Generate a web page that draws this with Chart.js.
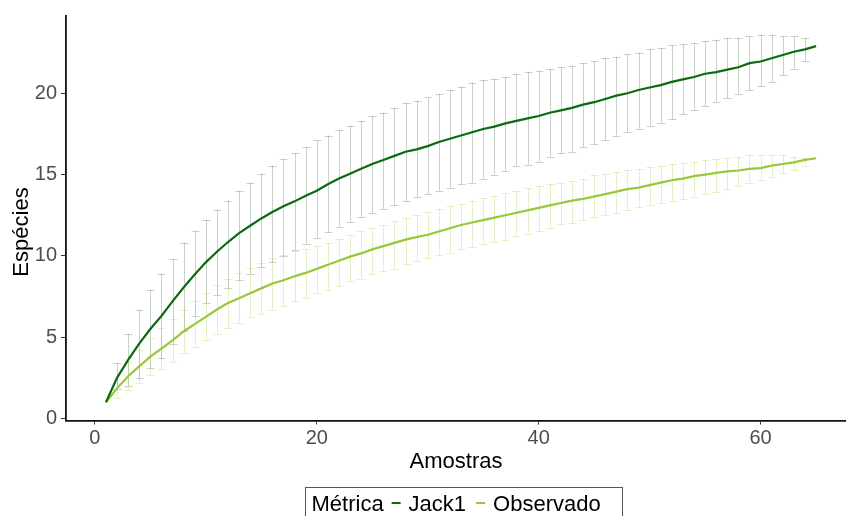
<!DOCTYPE html>
<html>
<head>
<meta charset="utf-8">
<script src="https://cdn.jsdelivr.net/npm/chart.js@4.4.1/dist/chart.umd.min.js"></script>
<style>
  html, body { margin: 0; padding: 0; background: #ffffff; }
  canvas { display: block; }
</style>
</head>
<body>
<canvas id="chart" width="846" height="516"></canvas>
<script>
// Number of samples (x axis)
const samples = [1,2,3,4,5,6,7,8,9,10,11,12,13,14,15,16,17,18,19,20,
  21,22,23,24,25,26,27,28,29,30,31,32,33,34,35,36,37,38,39,40,
  41,42,43,44,45,46,47,48,49,50,51,52,53,54,55,56,57,58,59,60,
  61,62,63,64,65];

// Jack1 estimator: mean and error-bar limits
const jackMean = [1.0,2.5,3.6,4.6,5.5,6.3,7.2,8.05,8.85,9.6,
  10.25,10.85,11.4,11.85,12.3,12.7,13.05,13.35,13.7,14.0,
  14.4,14.75,15.05,15.35,15.65,15.9,16.15,16.4,16.55,16.75,
  17.0,17.2,17.4,17.6,17.8,17.95,18.15,18.3,18.45,18.6,
  18.8,18.95,19.1,19.3,19.45,19.65,19.85,20.0,20.2,20.35,
  20.5,20.7,20.85,21.0,21.2,21.3,21.45,21.6,21.85,21.95,
  22.15,22.35,22.55,22.7,22.9];
const jackLower = [1.0,1.8,2.0,2.5,3.1,3.7,4.6,5.4,6.3,7.1,
  7.6,8.05,8.5,8.9,9.3,9.6,10.0,10.35,10.75,11.1,
  11.45,11.8,12.1,12.4,12.65,12.9,13.1,13.35,13.6,13.8,
  14.0,14.2,14.4,14.5,14.75,15.0,15.2,15.5,15.6,15.8,
  16.1,16.3,16.4,16.7,16.85,17.1,17.4,17.6,17.8,18.0,
  18.2,18.4,18.7,19.0,19.2,19.45,19.7,19.96,20.2,20.45,
  20.7,21.1,21.5,21.96,22.9];
const jackUpper = [1.0,3.4,5.2,6.7,7.9,8.9,9.8,10.8,11.5,12.2,
  12.85,13.4,14.0,14.5,15.05,15.55,15.95,16.3,16.7,17.1,
  17.4,17.75,18.0,18.3,18.6,18.8,19.1,19.4,19.55,19.75,
  19.96,20.2,20.4,20.65,20.8,20.9,21.0,21.2,21.3,21.38,
  21.5,21.6,21.7,21.85,21.96,22.15,22.25,22.4,22.5,22.7,
  22.8,22.95,23.0,23.1,23.2,23.3,23.4,23.4,23.5,23.6,
  23.6,23.5,23.5,23.4,22.9];

// Observed richness: mean and error-bar limits
const obsMean = [1.0,1.85,2.6,3.2,3.8,4.3,4.8,5.35,5.8,6.25,
  6.7,7.1,7.4,7.7,8.0,8.3,8.5,8.75,8.95,9.2,
  9.45,9.7,9.95,10.15,10.4,10.6,10.8,11.0,11.15,11.3,
  11.5,11.7,11.9,12.05,12.2,12.35,12.5,12.65,12.8,12.95,
  13.1,13.25,13.4,13.5,13.65,13.8,13.95,14.1,14.2,14.35,
  14.5,14.65,14.75,14.9,15.0,15.1,15.2,15.25,15.35,15.4,
  15.55,15.65,15.75,15.9,16.0];
const obsLower = [1.0,1.25,1.75,2.2,2.65,3.05,3.5,4.0,4.4,4.8,
  5.2,5.55,5.9,6.25,6.45,6.7,6.9,7.2,7.4,7.7,
  7.9,8.15,8.45,8.6,8.9,9.05,9.2,9.5,9.7,9.85,
  10.05,10.2,10.4,10.55,10.7,10.85,11.0,11.2,11.35,11.5,
  11.7,11.95,12.0,12.2,12.4,12.5,12.65,12.85,13.0,13.1,
  13.25,13.35,13.5,13.65,13.8,13.9,14.1,14.3,14.5,14.65,
  14.85,15.1,15.25,15.55,16.0];
const obsUpper = [1.0,2.45,3.45,4.2,4.95,5.55,6.1,6.7,7.2,7.7,
  8.2,8.6,8.95,9.25,9.55,9.85,10.05,10.3,10.45,10.6,
  10.8,11.05,11.3,11.5,11.7,11.9,12.15,12.3,12.5,12.7,
  12.9,13.05,13.2,13.4,13.55,13.7,13.85,14.0,14.15,14.3,
  14.4,14.5,14.6,14.75,14.95,15.05,15.15,15.25,15.35,15.45,
  15.55,15.65,15.72,15.8,15.9,15.97,16.0,16.1,16.2,16.2,
  16.2,16.2,16.1,16.0,16.0];

// Axis ticks and labels
const xTicks = [0, 20, 40, 60];
const yTicks = [0, 5, 10, 15, 20];
const seriesNames = ['Jack1', 'Observado'];
const legendTitle = 'Métrica';
const xTitle = 'Amostras';
const yTitle = 'Espécies';

const JACK_COLOR = '#0b6a12';
const OBS_COLOR = '#98c83a';
const FONT = '"Liberation Sans", Arial, sans-serif';

const errorSets = [
  { lower: jackLower, upper: jackUpper, color: 'rgba(40, 85, 40, 0.26)' },
  { lower: obsLower, upper: obsUpper, color: 'rgba(160, 200, 60, 0.28)' }
];

// Vertical error bars with caps, drawn through the chart's scales
const errorBarPlugin = {
  id: 'errorBars',
  beforeDatasetsDraw(chart) {
    const { ctx, chartArea, scales: { x, y } } = chart;
    ctx.save();
    ctx.beginPath();
    ctx.rect(chartArea.left, chartArea.top, chartArea.right - chartArea.left, chartArea.bottom - chartArea.top);
    ctx.clip();
    ctx.lineWidth = 1;
    const half = 4;
    errorSets.forEach(set => {
      ctx.strokeStyle = set.color;
      samples.forEach((s, i) => {
        if (set.upper[i] - set.lower[i] < 1e-6) return;
        const px = Math.round(x.getPixelForValue(s)) + 0.5;
        const yl = y.getPixelForValue(set.lower[i]);
        const yu = y.getPixelForValue(set.upper[i]);
        ctx.beginPath();
        ctx.moveTo(px, yl); ctx.lineTo(px, yu);
        ctx.moveTo(px - half, Math.round(yl) + 0.5); ctx.lineTo(px + half, Math.round(yl) + 0.5);
        ctx.moveTo(px - half, Math.round(yu) + 0.5); ctx.lineTo(px + half, Math.round(yu) + 0.5);
        ctx.stroke();
      });
    });
    ctx.restore();
  }
};

// Rotated y title and the boxed legend at the bottom
const annotationsPlugin = {
  id: 'annotations',
  afterDraw(chart) {
    const { ctx } = chart;
    ctx.save();
    ctx.fillStyle = '#000';
    ctx.font = '22px ' + FONT;
    ctx.textAlign = 'center';
    ctx.textBaseline = 'middle';
    ctx.translate(22, 232);
    ctx.rotate(-Math.PI / 2);
    ctx.fillText(yTitle, 0, 0);
    ctx.restore();

    ctx.save();
    ctx.font = '22px ' + FONT;
    ctx.textBaseline = 'alphabetic';
    ctx.textAlign = 'left';
    const baseline = 511;
    const midY = 503;
    const boxLeft = 305.5;
    let cx = boxLeft + 6;
    ctx.fillStyle = '#000';
    ctx.fillText(legendTitle, cx, baseline);
    cx += ctx.measureText(legendTitle).width + 8;
    const colors = [JACK_COLOR, OBS_COLOR];
    seriesNames.forEach((name, k) => {
      ctx.strokeStyle = colors[k];
      ctx.lineWidth = 2;
      ctx.beginPath();
      ctx.moveTo(cx, midY); ctx.lineTo(cx + 9, midY);
      ctx.stroke();
      cx += 9 + 8;
      ctx.fillText(name, cx, baseline);
      cx += ctx.measureText(name).width + 10;
    });
    ctx.strokeStyle = '#555';
    ctx.lineWidth = 1;
    ctx.strokeRect(boxLeft, 487.5, Math.round(cx - boxLeft) + 12, 40);
    ctx.restore();
  }
};

const toPoints = (ys) => samples.map((s, i) => ({ x: s, y: ys[i] }));

new Chart(document.getElementById('chart'), {
  type: 'line',
  data: {
    datasets: [
      { label: seriesNames[0], data: toPoints(jackMean), borderColor: JACK_COLOR, borderWidth: 2.2, pointRadius: 0, tension: 0, fill: false },
      { label: seriesNames[1], data: toPoints(obsMean), borderColor: OBS_COLOR, borderWidth: 2.2, pointRadius: 0, tension: 0, fill: false }
    ]
  },
  options: {
    responsive: false,
    devicePixelRatio: 1,
    animation: false,
    layout: { padding: { top: 15, right: 0, left: 0, bottom: 0 } },
    plugins: { legend: { display: false }, tooltip: { enabled: false }, title: { display: false } },
    scales: {
      x: {
        type: 'linear',
        min: -2.6,
        max: 67.7,
        afterBuildTicks: (scale) => { scale.ticks = xTicks.map(v => ({ value: v })); },
        afterFit: (scale) => { scale.height = 95.5; },
        grid: { display: true, drawOnChartArea: false, drawTicks: true, tickLength: 4, tickColor: '#333' },
        border: { display: true, color: '#111', width: 1.8 },
        ticks: { color: '#4d4d4d', font: { size: 20, family: FONT }, padding: 2, maxRotation: 0, autoSkip: false },
        title: { display: true, text: xTitle, color: '#000', font: { size: 22, family: FONT }, padding: { top: 0, bottom: 41 } }
      },
      y: {
        type: 'linear',
        min: -0.125,
        max: 24.75,
        afterBuildTicks: (scale) => { scale.ticks = yTicks.map(v => ({ value: v })); },
        afterFit: (scale) => { scale.width = 66; },
        grid: { display: true, drawOnChartArea: false, drawTicks: true, tickLength: 5, tickColor: '#333' },
        border: { display: true, color: '#111', width: 1.8 },
        ticks: { color: '#4d4d4d', font: { size: 20, family: FONT }, padding: 4, autoSkip: false }
      }
    }
  },
  plugins: [errorBarPlugin, annotationsPlugin]
});
</script>
</body>
</html>
